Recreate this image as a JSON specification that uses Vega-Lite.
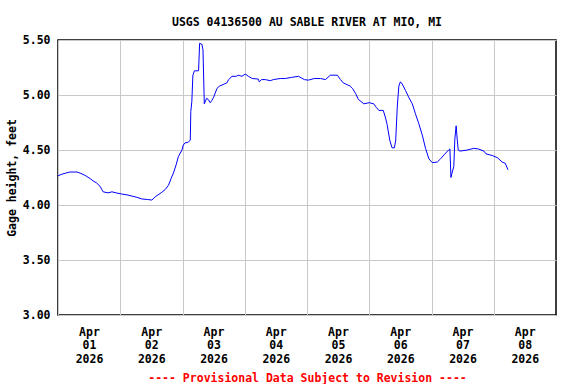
{
  "$schema": "https://vega.github.io/schema/vega-lite/v6.json",
  "width": 498,
  "height": 275,
  "autosize": {"type": "none"},
  "padding": {"left": 58, "top": 40, "right": 20, "bottom": 69},
  "background": "#ffffff",
  "title": {
    "text": "USGS 04136500 AU SABLE RIVER AT MIO, MI",
    "font": "DejaVu Sans Mono",
    "fontSize": 11.5,
    "fontWeight": "bold",
    "color": "#000000",
    "anchor": "middle",
    "baseline": "alphabetic",
    "offset": 15,
    "dy": 18
  },
  "config": {
    "view": {"stroke": "#000000", "strokeWidth": 1.5},
    "axis": {
      "labelFont": "DejaVu Sans Mono",
      "labelFontSize": 11.5,
      "labelFontWeight": "bold",
      "labelColor": "#000000",
      "titleFont": "DejaVu Sans Mono",
      "titleFontSize": 11.5,
      "titleFontWeight": "bold",
      "titleColor": "#000000",
      "gridColor": "#c8c8c8",
      "gridWidth": 1,
      "gridOpacity": 1,
      "domain": false,
      "ticks": false,
      "tickSize": 0
    }
  },
  "data": {
    "values": [
      {"t": "2026-04-01T00:00:00Z", "h": 4.265},
      {"t": "2026-04-01T01:30:00Z", "h": 4.28},
      {"t": "2026-04-01T03:00:00Z", "h": 4.29},
      {"t": "2026-04-01T04:36:00Z", "h": 4.30},
      {"t": "2026-04-01T07:18:00Z", "h": 4.30},
      {"t": "2026-04-01T08:30:00Z", "h": 4.29},
      {"t": "2026-04-01T10:24:00Z", "h": 4.27},
      {"t": "2026-04-01T12:24:00Z", "h": 4.24},
      {"t": "2026-04-01T13:30:00Z", "h": 4.22},
      {"t": "2026-04-01T14:54:00Z", "h": 4.20},
      {"t": "2026-04-01T16:12:00Z", "h": 4.17},
      {"t": "2026-04-01T16:54:00Z", "h": 4.14},
      {"t": "2026-04-01T17:24:00Z", "h": 4.12},
      {"t": "2026-04-01T19:18:00Z", "h": 4.11},
      {"t": "2026-04-01T20:48:00Z", "h": 4.12},
      {"t": "2026-04-01T22:24:00Z", "h": 4.11},
      {"t": "2026-04-02T00:36:00Z", "h": 4.10},
      {"t": "2026-04-02T03:00:00Z", "h": 4.09},
      {"t": "2026-04-02T06:24:00Z", "h": 4.07},
      {"t": "2026-04-02T08:18:00Z", "h": 4.055},
      {"t": "2026-04-02T10:30:00Z", "h": 4.05},
      {"t": "2026-04-02T12:12:00Z", "h": 4.045},
      {"t": "2026-04-02T13:30:00Z", "h": 4.075},
      {"t": "2026-04-02T16:00:00Z", "h": 4.115},
      {"t": "2026-04-02T17:18:00Z", "h": 4.14},
      {"t": "2026-04-02T18:36:00Z", "h": 4.18},
      {"t": "2026-04-02T19:36:00Z", "h": 4.24},
      {"t": "2026-04-02T20:30:00Z", "h": 4.29},
      {"t": "2026-04-02T21:36:00Z", "h": 4.37},
      {"t": "2026-04-02T22:24:00Z", "h": 4.44},
      {"t": "2026-04-02T23:48:00Z", "h": 4.50},
      {"t": "2026-04-03T00:18:00Z", "h": 4.545},
      {"t": "2026-04-03T01:00:00Z", "h": 4.565},
      {"t": "2026-04-03T02:12:00Z", "h": 4.57},
      {"t": "2026-04-03T03:00:00Z", "h": 4.59},
      {"t": "2026-04-03T03:12:00Z", "h": 4.85},
      {"t": "2026-04-03T03:36:00Z", "h": 4.94},
      {"t": "2026-04-03T04:00:00Z", "h": 5.18},
      {"t": "2026-04-03T04:36:00Z", "h": 5.22},
      {"t": "2026-04-03T06:12:00Z", "h": 5.22},
      {"t": "2026-04-03T06:36:00Z", "h": 5.47},
      {"t": "2026-04-03T07:30:00Z", "h": 5.46},
      {"t": "2026-04-03T07:54:00Z", "h": 5.41},
      {"t": "2026-04-03T08:24:00Z", "h": 4.92},
      {"t": "2026-04-03T09:18:00Z", "h": 4.97},
      {"t": "2026-04-03T09:54:00Z", "h": 4.96},
      {"t": "2026-04-03T10:42:00Z", "h": 4.93},
      {"t": "2026-04-03T11:18:00Z", "h": 4.95},
      {"t": "2026-04-03T12:00:00Z", "h": 4.98},
      {"t": "2026-04-03T13:18:00Z", "h": 5.06},
      {"t": "2026-04-03T14:12:00Z", "h": 5.08},
      {"t": "2026-04-03T15:12:00Z", "h": 5.09},
      {"t": "2026-04-03T16:06:00Z", "h": 5.10},
      {"t": "2026-04-03T17:06:00Z", "h": 5.11},
      {"t": "2026-04-03T17:48:00Z", "h": 5.14},
      {"t": "2026-04-03T19:06:00Z", "h": 5.17},
      {"t": "2026-04-03T20:42:00Z", "h": 5.17},
      {"t": "2026-04-03T21:30:00Z", "h": 5.18},
      {"t": "2026-04-03T22:54:00Z", "h": 5.17},
      {"t": "2026-04-04T00:12:00Z", "h": 5.19},
      {"t": "2026-04-04T01:24:00Z", "h": 5.17},
      {"t": "2026-04-04T02:54:00Z", "h": 5.15},
      {"t": "2026-04-04T05:12:00Z", "h": 5.145},
      {"t": "2026-04-04T05:36:00Z", "h": 5.12},
      {"t": "2026-04-04T06:30:00Z", "h": 5.14},
      {"t": "2026-04-04T07:54:00Z", "h": 5.14},
      {"t": "2026-04-04T09:54:00Z", "h": 5.13},
      {"t": "2026-04-04T11:00:00Z", "h": 5.14},
      {"t": "2026-04-04T13:42:00Z", "h": 5.15},
      {"t": "2026-04-04T15:36:00Z", "h": 5.15},
      {"t": "2026-04-04T18:00:00Z", "h": 5.16},
      {"t": "2026-04-04T20:42:00Z", "h": 5.17},
      {"t": "2026-04-04T23:00:00Z", "h": 5.14},
      {"t": "2026-04-05T00:30:00Z", "h": 5.135},
      {"t": "2026-04-05T02:48:00Z", "h": 5.15},
      {"t": "2026-04-05T05:12:00Z", "h": 5.15},
      {"t": "2026-04-05T07:06:00Z", "h": 5.14},
      {"t": "2026-04-05T09:00:00Z", "h": 5.18},
      {"t": "2026-04-05T11:42:00Z", "h": 5.18},
      {"t": "2026-04-05T12:54:00Z", "h": 5.14},
      {"t": "2026-04-05T14:00:00Z", "h": 5.11},
      {"t": "2026-04-05T16:42:00Z", "h": 5.08},
      {"t": "2026-04-05T17:30:00Z", "h": 5.06},
      {"t": "2026-04-05T18:42:00Z", "h": 5.015},
      {"t": "2026-04-05T19:48:00Z", "h": 4.96},
      {"t": "2026-04-05T21:54:00Z", "h": 4.92},
      {"t": "2026-04-06T00:00:00Z", "h": 4.93},
      {"t": "2026-04-06T01:42:00Z", "h": 4.92},
      {"t": "2026-04-06T02:48:00Z", "h": 4.885},
      {"t": "2026-04-06T03:42:00Z", "h": 4.86},
      {"t": "2026-04-06T05:24:00Z", "h": 4.86},
      {"t": "2026-04-06T06:18:00Z", "h": 4.79},
      {"t": "2026-04-06T06:54:00Z", "h": 4.73},
      {"t": "2026-04-06T07:54:00Z", "h": 4.59},
      {"t": "2026-04-06T08:48:00Z", "h": 4.52},
      {"t": "2026-04-06T09:42:00Z", "h": 4.52},
      {"t": "2026-04-06T10:12:00Z", "h": 4.59},
      {"t": "2026-04-06T10:48:00Z", "h": 4.89},
      {"t": "2026-04-06T11:24:00Z", "h": 5.08},
      {"t": "2026-04-06T12:00:00Z", "h": 5.12},
      {"t": "2026-04-06T12:42:00Z", "h": 5.10},
      {"t": "2026-04-06T14:00:00Z", "h": 5.04},
      {"t": "2026-04-06T15:12:00Z", "h": 4.98},
      {"t": "2026-04-06T16:36:00Z", "h": 4.92},
      {"t": "2026-04-06T17:48:00Z", "h": 4.83},
      {"t": "2026-04-06T19:06:00Z", "h": 4.74},
      {"t": "2026-04-06T20:24:00Z", "h": 4.64},
      {"t": "2026-04-06T21:42:00Z", "h": 4.515},
      {"t": "2026-04-06T23:00:00Z", "h": 4.42},
      {"t": "2026-04-07T00:18:00Z", "h": 4.385},
      {"t": "2026-04-07T02:12:00Z", "h": 4.39},
      {"t": "2026-04-07T03:30:00Z", "h": 4.42},
      {"t": "2026-04-07T04:48:00Z", "h": 4.455},
      {"t": "2026-04-07T06:36:00Z", "h": 4.50},
      {"t": "2026-04-07T07:06:00Z", "h": 4.51},
      {"t": "2026-04-07T07:30:00Z", "h": 4.25},
      {"t": "2026-04-07T08:00:00Z", "h": 4.30},
      {"t": "2026-04-07T08:36:00Z", "h": 4.35},
      {"t": "2026-04-07T09:00:00Z", "h": 4.60},
      {"t": "2026-04-07T09:30:00Z", "h": 4.72},
      {"t": "2026-04-07T09:54:00Z", "h": 4.60},
      {"t": "2026-04-07T10:18:00Z", "h": 4.50},
      {"t": "2026-04-07T11:00:00Z", "h": 4.49},
      {"t": "2026-04-07T13:48:00Z", "h": 4.50},
      {"t": "2026-04-07T16:18:00Z", "h": 4.515},
      {"t": "2026-04-07T18:00:00Z", "h": 4.51},
      {"t": "2026-04-07T20:12:00Z", "h": 4.49},
      {"t": "2026-04-07T21:00:00Z", "h": 4.465},
      {"t": "2026-04-07T23:24:00Z", "h": 4.45},
      {"t": "2026-04-08T01:24:00Z", "h": 4.43},
      {"t": "2026-04-08T03:18:00Z", "h": 4.39},
      {"t": "2026-04-08T04:24:00Z", "h": 4.38},
      {"t": "2026-04-08T05:30:00Z", "h": 4.32}
    ]
  },
  "mark": {"type": "line", "color": "#0000ff", "strokeWidth": 1, "interpolate": "linear"},
  "encoding": {
    "x": {
      "field": "t",
      "type": "temporal",
      "scale": {
        "type": "utc",
        "nice": false,
        "domain": [
          {"year": 2026, "month": 4, "date": 1, "utc": true},
          {"year": 2026, "month": 4, "date": 9, "utc": true}
        ]
      },
      "axis": {
        "grid": true,
        "values": [
          {"year": 2026, "month": 4, "date": 1, "utc": true},
          {"year": 2026, "month": 4, "date": 2, "utc": true},
          {"year": 2026, "month": 4, "date": 3, "utc": true},
          {"year": 2026, "month": 4, "date": 4, "utc": true},
          {"year": 2026, "month": 4, "date": 5, "utc": true},
          {"year": 2026, "month": 4, "date": 6, "utc": true},
          {"year": 2026, "month": 4, "date": 7, "utc": true},
          {"year": 2026, "month": 4, "date": 8, "utc": true}
        ],
        "labelExpr": "['Apr', utcFormat(datum.value, '%d'), '2026']",
        "labelOffset": 31,
        "labelPadding": 11,
        "labelLineHeight": 13.5,
        "labelBaseline": "top",
        "labelAlign": "center",
        "labelFlush": false,
        "labelOverlap": false,
        "labelBound": false,
        "title": "---- Provisional Data Subject to Revision ----",
        "titleColor": "#ff0000",
        "titleX": 249,
        "titleY": 66,
        "titleAlign": "center",
        "titleBaseline": "alphabetic"
      }
    },
    "y": {
      "field": "h",
      "type": "quantitative",
      "scale": {"domain": [3, 5.5], "nice": false, "zero": false},
      "axis": {
        "grid": true,
        "values": [3, 3.5, 4, 4.5, 5, 5.5],
        "format": ".2f",
        "labelPadding": 8,
        "labelBaseline": "middle",
        "title": "Gage height, feet",
        "titleAngle": -90,
        "titleX": -46,
        "titleY": 137.5,
        "titleAlign": "center",
        "titleBaseline": "middle"
      }
    }
  }
}
